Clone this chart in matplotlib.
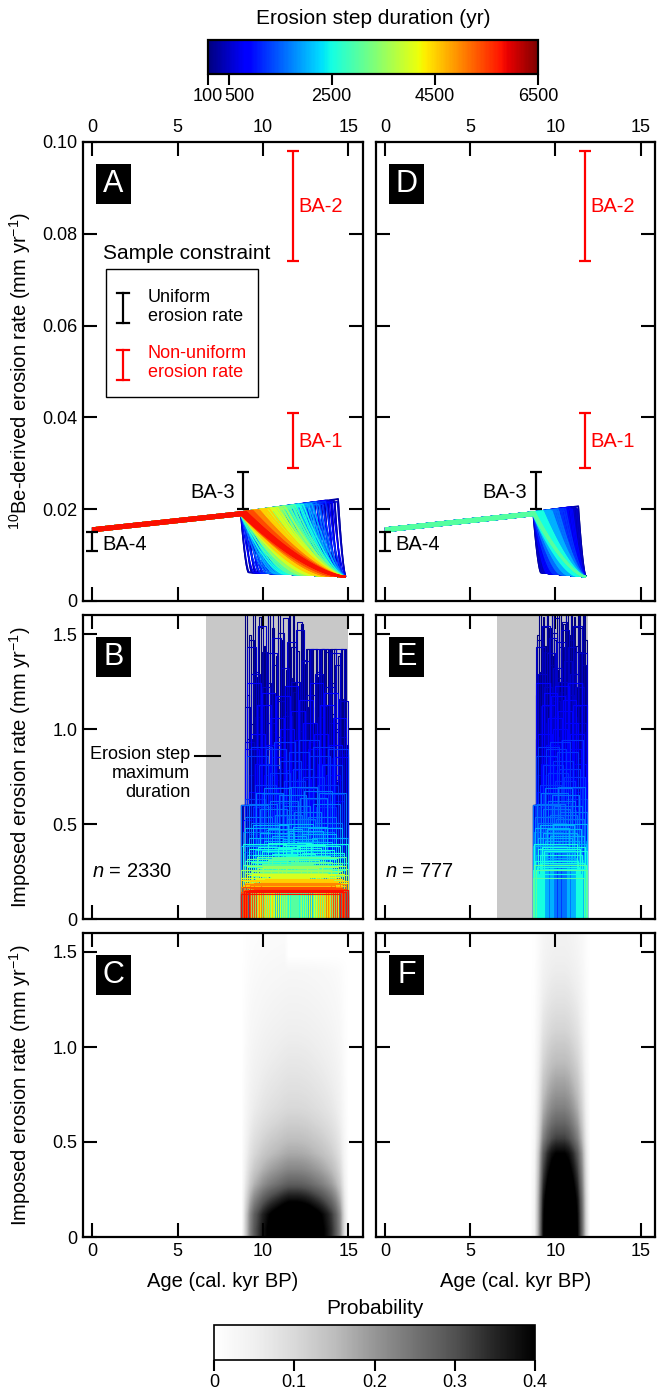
import numpy as np
import matplotlib
matplotlib.use("Agg")
import matplotlib.pyplot as plt
import matplotlib as mpl
from matplotlib.collections import LineCollection
from matplotlib.patches import Rectangle
from matplotlib.transforms import ScaledTranslation

plt.rcParams['font.family'] = ['Liberation Sans', 'DejaVu Sans']
plt.rcParams['mathtext.fontset'] = 'custom'
plt.rcParams['mathtext.rm'] = 'Liberation Sans'
plt.rcParams['mathtext.it'] = 'Liberation Sans:italic'
plt.rcParams['mathtext.default'] = 'regular'

# ---------------- data ----------------
durations_yr = [100, 300, 500, 800, 1200, 1600, 2000, 2500, 3000,
                3500, 4000, 4500, 5000, 5400, 5800, 6500]
# drawing order (index into durations_yr): longest first, then ascending
draw_order = [15, 0, 1, 2, 3, 4, 5, 6, 7, 8, 9, 10, 11, 12, 13, 14]
# imposed erosion-rate range (mm/yr) for each step duration
rate_low = [0.90, 0.70, 0.55, 0.42, 0.34, 0.29, 0.26, 0.23, 0.21,
            0.19, 0.17, 0.16, 0.15, 0.14, 0.13, 0.12]
rate_high = [1.75, 1.65, 1.55, 1.25, 0.95, 0.70, 0.50, 0.40, 0.33,
             0.28, 0.24, 0.21, 0.19, 0.17, 0.155, 0.14]
rate_fractions = [0.52, 0.08, 0.91, 0.33, 0.70, 0.15, 0.97, 0.44, 0.26, 0.81,
                  0.05, 0.63, 0.38, 0.88, 0.21, 0.74, 0.12, 0.57, 0.99, 0.30,
                  0.67, 0.02, 0.48, 0.85, 0.18, 0.93, 0.41, 0.60, 0.24, 0.77]

# 10Be-derived (apparent) erosion rate anchors (kyr, mm/yr)
pre_age = [0.0, 8.7, 14.9]
pre_rate = [0.0155, 0.0190, 0.0222]
low_rate = [0.0063, 0.0053]
step_onset = 8.7

# sample constraints
sample_names = ['BA-1', 'BA-2', 'BA-3', 'BA-4']
sample_age = [11.75, 11.75, 8.85, 0.0]
sample_low = [0.029, 0.074, 0.020, 0.011]
sample_high = [0.041, 0.098, 0.028, 0.015]
sample_uniform = [False, False, True, True]
sample_label_x = [12.05, 12.05, 8.35, 0.62]
sample_label_y = [0.0348, 0.0859, 0.0236, 0.0123]
sample_label_ha = ['left', 'left', 'right', 'left']

# scenarios (left column / right column)
scen_fan_end = [14.85, 11.8]
scen_box_end = [15.0, 11.85]
scen_max_dur = [6500, 3100]
scen_box_step = [0.12, 0.06]
scen_n = ['2330', '777']
scen_gray = [(6.65, 15.0), (6.6, 11.9)]
scen_late_cap = [(12.4, 1.42), None]

# probability maps (C, F): age profile x rate profile
rate_centers = [0.04, 0.12, 0.20, 0.28, 0.36, 0.44, 0.52, 0.60, 0.68, 0.76,
                0.84, 0.92, 1.00, 1.08, 1.16, 1.24, 1.32, 1.40, 1.48, 1.56]
c_ages = [8.5, 8.75, 9.0, 9.25, 9.5, 9.75, 10.0, 10.25, 10.5, 10.75, 11.0,
          11.25, 11.5, 11.75, 12.0, 12.25, 12.5, 12.75, 13.0, 13.25, 13.5,
          13.75, 14.0, 14.25, 14.5, 14.75, 15.0]
c_age_w = [0.0, 0.0, 0.25, 0.45, 0.58, 0.66, 0.74, 0.80, 0.85, 0.89, 0.93,
           0.97, 1.0, 1.0, 1.0, 0.99, 0.97, 0.94, 0.90, 0.86, 0.81,
           0.75, 0.68, 0.58, 0.44, 0.18, 0.0]
c_rate_p = [0.50, 0.48, 0.38, 0.28, 0.22, 0.175, 0.145, 0.12, 0.10, 0.088,
            0.078, 0.069, 0.061, 0.053, 0.046, 0.040, 0.034, 0.028, 0.022, 0.017]
c_top_cut_age = 11.5
c_top_cut_rate = 1.42
f_ages = [8.5, 8.75, 9.0, 9.25, 9.5, 9.75, 10.0, 10.25, 10.5, 10.75, 11.0,
          11.25, 11.5, 11.75, 12.0, 12.25]
f_age_w = [0.0, 0.08, 0.35, 0.70, 0.85, 0.95, 1.0, 1.0, 1.0, 0.95, 0.85,
           0.72, 0.50, 0.20, 0.0, 0.0]
f_rate_p = [0.55, 0.54, 0.52, 0.48, 0.44, 0.40, 0.32, 0.27, 0.23, 0.20,
            0.175, 0.15, 0.13, 0.11, 0.095, 0.08, 0.068, 0.058, 0.05, 0.045]

# ---------------- figure ----------------
W, H = 657, 1392
fig = plt.figure(figsize=(W / 100, H / 100), dpi=100)


def rect(l, r, t, b):
    return [l / W, 1 - b / H, (r - l) / W, (b - t) / H]


jet = plt.get_cmap('jet')
dnorm = mpl.colors.Normalize(100, 6500)
TICK = 13
LAB = 14.5
decline_power = 1.6
min_decline = 0.45
XL = (-0.53, 15.85)
YLAB_X = -0.178


def style(ax, top=False, left=False, bottom=False):
    ax.tick_params(direction='in', length=10, width=1.5, top=True, right=True,
                   bottom=True, left=True, labeltop=top, labelbottom=bottom,
                   labelleft=left, labelright=False, labelsize=TICK, pad=4)
    for sp in ax.spines.values():
        sp.set_linewidth(1.6)
    ax.set_xlim(*XL)
    ax.set_xticks([0, 5, 10, 15])


def panel_letter(ax, letter, axw, axh):
    bw, bh = 35 / axw, 40 / axh
    x0, y0 = 13 / axw, 1 - 22 / axh - bh
    ax.add_patch(Rectangle((x0, y0), bw, bh, transform=ax.transAxes,
                           facecolor='black', edgecolor='none', zorder=10))
    ax.text(x0 + bw / 2, y0 + bh / 2, letter, transform=ax.transAxes,
            color='white', fontsize=22, ha='center', va='center', zorder=11)


def apparent_curve(d_kyr, s, fan_end, offset):
    w = min(max(d_kyr, min_decline), fan_end - step_onset)
    s = min(s, fan_end - w)

    def lo(t):
        return np.interp(t, [step_onset, fan_end], low_rate)

    def pre(t):
        return np.interp(t, pre_age, pre_rate) + offset

    xs = [0.0, step_onset] if s > step_onset else [0.0]
    ys = [pre(x) for x in xs]
    u = np.linspace(0, 1, 30)
    t = s + w * u
    y = lo(t) + (pre(s) - lo(t)) * (1 - u) ** decline_power
    xs = list(xs) + list(t)
    ys = list(ys) + list(y)
    if s + w < fan_end:
        xs.append(fan_end)
        ys.append(lo(fan_end))
    return np.column_stack([xs, ys])


def onsets(end, width, n):
    last = max(step_onset, end - width)
    return np.linspace(step_onset, last, n)


ax_w = 280
col_x = [(83, 363), (376, 655)]
letters = [['A', 'B', 'C'], ['D', 'E', 'F']]

for ci in range(2):
    l, r = col_x[ci]
    axA = fig.add_axes(rect(l, r, 142, 601))
    axB = fig.add_axes(rect(l, r, 615, 919))
    axC = fig.add_axes(rect(l, r, 933, 1237))
    fan_end = scen_fan_end[ci]
    box_end = scen_box_end[ci]
    nS = len(rate_fractions)

    # ---- panel A / D : apparent erosion rate curves ----
    segs, cols = [], []
    for i in draw_order:
        d = durations_yr[i]
        if d > scen_max_dur[ci]:
            continue
        dk = d / 1000.0
        w = min(max(dk, min_decline), fan_end - step_onset)
        for j, s in enumerate(onsets(fan_end, w, nS)):
            off = (rate_fractions[(j + 3 * i) % nS] - 0.5) * 0.0008
            segs.append(apparent_curve(dk, s, fan_end, off))
            cols.append(jet(dnorm(d)))
    axA.add_collection(LineCollection(segs, colors=cols, linewidths=1.0, zorder=2))
    axA.set_ylim(0, 0.1)
    axA.set_yticks([0, 0.02, 0.04, 0.06, 0.08, 0.10])
    axA.set_yticklabels(['0', '0.02', '0.04', '0.06', '0.08', '0.10'])
    style(axA, top=True, left=(ci == 0))

    for k in range(len(sample_names)):
        c = 'black' if sample_uniform[k] else '#ff0000'
        mid = (sample_low[k] + sample_high[k]) / 2
        half = (sample_high[k] - sample_low[k]) / 2
        axA.errorbar([sample_age[k]], [mid], yerr=[[half], [half]], fmt='none',
                     ecolor=c, elinewidth=1.6, capsize=4.5, capthick=1.6, zorder=5)
        axA.text(sample_label_x[k], sample_label_y[k], sample_names[k], color=c,
                 fontsize=14.5, ha=sample_label_ha[k], va='center', zorder=6)
    panel_letter(axA, letters[ci][0], ax_w, 459)

    if ci == 0:
        axA.set_ylabel('$^{10}$Be-derived erosion rate (mm yr$^{-1}$)', fontsize=LAB)
        axA.yaxis.set_label_coords(YLAB_X, 0.5)
        # legend
        axA.text(0.071, 0.758, 'Sample constraint', transform=axA.transAxes,
                 fontsize=15, ha='left', va='center')
        axA.add_patch(Rectangle((0.082, 0.4444), 0.543, 0.279, transform=axA.transAxes,
                                facecolor='white', edgecolor='black', linewidth=1.0, zorder=7))
        for (yb, yt, c) in [(0.6057, 0.671, 'black'), (0.4815, 0.5468, '#ff0000')]:
            xm = 0.143
            axA.plot([xm, xm], [yb, yt], color=c, lw=1.6, transform=axA.transAxes, zorder=8)
            for yy in (yb, yt):
                axA.plot([xm - 0.022, xm + 0.022], [yy, yy], color=c, lw=1.6,
                         transform=axA.transAxes, zorder=8)
        axA.text(0.232, 0.6405, 'Uniform\nerosion rate', transform=axA.transAxes,
                 fontsize=13, ha='left', va='center', linespacing=1.2, zorder=8)
        axA.text(0.232, 0.5185, 'Non-uniform\nerosion rate', transform=axA.transAxes,
                 fontsize=13, ha='left', va='center', linespacing=1.2, color='#ff0000', zorder=8)

    # ---- panel B / E : imposed erosion steps ----
    g0, g1 = scen_gray[ci]
    axB.axvspan(g0, g1, color='#c8c8c8', zorder=0, lw=0)
    segs, cols = [], []
    for i in draw_order:
        d = durations_yr[i]
        if d > scen_max_dur[ci]:
            continue
        dk = d / 1000.0
        span = max(0.0, box_end - dk - step_onset)
        nb = int(np.clip(round(span / scen_box_step[ci]), 3, 60))
        for j, s in enumerate(onsets(box_end, dk, nb)):
            width = min(dk, box_end - s)
            R = rate_low[i] + (rate_high[i] - rate_low[i]) * rate_fractions[(j + 5 * i) % nS]
            cap = scen_late_cap[ci]
            if cap is not None and s > cap[0]:
                R = min(R, cap[1])
            if s < 8.85:
                R = min(R, 0.6)
            segs.append([[-1, 0], [s, 0], [s, R], [s + width, R], [s + width, 0], [17, 0]])
            cols.append(jet(dnorm(d)))
    axB.add_collection(LineCollection(segs, colors=cols, linewidths=0.8, zorder=2))
    axB.set_ylim(0, 1.6)
    axB.set_yticks([0, 0.5, 1.0, 1.5])
    axB.set_yticklabels(['0', '0.5', '1.0', '1.5'])
    style(axB, left=(ci == 0))
    axB.text(0.0, 0.25, '$\\mathit{n}$ = ' + scen_n[ci], fontsize=14.5, ha='left', va='center')
    panel_letter(axB, letters[ci][1], ax_w, 304)
    if ci == 0:
        axB.set_ylabel('Imposed erosion rate (mm yr$^{-1}$)', fontsize=LAB)
        axB.yaxis.set_label_coords(YLAB_X, 0.5)
        axB.plot([6.0, 7.5], [0.86, 0.86], color='black', lw=1.5, zorder=3)
        axB.text(5.75, 0.91, 'Erosion step\nmaximum\nduration', fontsize=13,
                 ha='right', va='top', multialignment='right', linespacing=1.15)

    # ---- panel C / F : probability ----
    if ci == 0:
        P = np.outer(c_rate_p, c_age_w)
        ages = np.array(c_ages)
        rc = np.array(rate_centers)
        P[np.ix_(rc > c_top_cut_rate, ages >= c_top_cut_age)] = 0
    else:
        P = np.outer(f_rate_p, f_age_w)
        ages = np.array(f_ages)
    step = ages[1] - ages[0]
    axC.imshow(P, cmap='Greys', vmin=0, vmax=0.4, origin='lower', aspect='auto',
               interpolation='bilinear',
               extent=[ages[0] - step / 2, ages[-1] + step / 2, 0, 1.6], zorder=1)
    axC.set_ylim(0, 1.6)
    axC.set_yticks([0, 0.5, 1.0, 1.5])
    axC.set_yticklabels(['0', '0.5', '1.0', '1.5'])
    style(axC, left=(ci == 0), bottom=True)
    axC.set_xlim(*XL)
    axC.set_xlabel('Age (cal. kyr BP)', fontsize=LAB)
    axC.xaxis.set_label_coords(0.5, -0.115)
    panel_letter(axC, letters[ci][2], ax_w, 304)
    if ci == 0:
        axC.set_ylabel('Imposed erosion rate (mm yr$^{-1}$)', fontsize=LAB)
        axC.yaxis.set_label_coords(YLAB_X, 0.5)

# ---- colour bars ----
cax = fig.add_axes(rect(208, 538, 40, 74))
cb = mpl.colorbar.ColorbarBase(cax, cmap=jet, norm=dnorm, orientation='horizontal')
cb.set_ticks([100, 500, 2500, 4500, 6500])
cb.set_ticklabels(['100', '500', '2500', '4500', '6500'])
cax.tick_params(direction='out', length=8, width=1.5, labelsize=TICK, pad=2)
cb.outline.set_linewidth(1.6)
labs = cax.get_xticklabels()
labs[1].set_ha('left')
labs[1].set_transform(labs[1].get_transform() + ScaledTranslation(-4 / 100, 0, fig.dpi_scale_trans))
fig.text(373 / W, 1 - 18 / H, 'Erosion step duration (yr)', fontsize=15, ha='center', va='center')

pax = fig.add_axes(rect(214, 535, 1325, 1360))
pb = mpl.colorbar.ColorbarBase(pax, cmap=plt.get_cmap('Greys'),
                               norm=mpl.colors.Normalize(0, 0.4), orientation='horizontal')
pb.set_ticks([0, 0.1, 0.2, 0.3, 0.4])
pb.set_ticklabels(['0', '0.1', '0.2', '0.3', '0.4'])
pax.tick_params(direction='out', length=8, width=1.5, labelsize=TICK, pad=2)
pb.outline.set_linewidth(1.2)
fig.text(375 / W, 1 - 1309 / H, 'Probability', fontsize=15, ha='center', va='center')

fig.savefig('out.png', dpi=100)
